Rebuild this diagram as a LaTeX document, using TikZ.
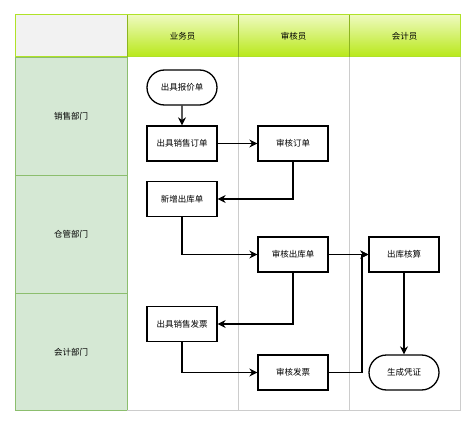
\documentclass[tikz,border=0pt]{standalone}
\usepackage{fontspec}
\newfontfamily\cjk{Noto Sans CJK SC}
\usepackage{tikz}
\usetikzlibrary{arrows.meta,shapes.misc}
\definecolor{hdrline}{RGB}{176,226,40}
\definecolor{hdrtop}{RGB}{238,250,190}
\definecolor{hdrbot}{RGB}{184,232,24}
\definecolor{deptfill}{RGB}{213,232,212}
\definecolor{deptline}{RGB}{140,190,110}
\definecolor{laneline}{RGB}{204,204,204}
\tikzset{
    stepbox/.style={
        draw,
        line width=1.3pt,
        minimum width=70pt,
        minimum height=35pt,
        inner sep=0pt,
        font=\cjk\fontsize{8.5}{10}\selectfont
    },
    % 圆角起止框
    termbox/.style={
        stepbox,
        rounded rectangle
    },
    flowarrow/.style={
        line width=1.2pt,
        black,
        -{Stealth[length=8pt, width=8pt]}
    },
    lanetext/.style={
        font=\cjk\fontsize{8.5}{10}\selectfont
    }
}
\begin{document}
\begin{tikzpicture}[x=1pt,y=-1pt]
\useasboundingbox (0,0) rectangle (474,425);
\fill[white] (0,0) rectangle (474,425);

% ===================== 表头 =====================
\fill[black!5] (15,15) rectangle (127,57);
\shade[top color=hdrtop, bottom color=hdrbot] (127,15) rectangle (460,57);
\draw[hdrline, line width=1pt] (15,15) rectangle (460,57);
\draw[hdrline!80!black, line width=0.8pt] (127,15) -- (127,57) (238,15) -- (238,57) (349,15) -- (349,57);
\node[lanetext] (clerk) at (182.5,36) {业务员};
\node[lanetext] (auditor) at (293.5,36) {审核员};
\node[lanetext] (accountant) at (404.5,36) {会计员};

% ===================== 部门 =====================
\draw[deptline, fill=deptfill, line width=0.8pt] (15,57) rectangle (127,175);
\draw[deptline, fill=deptfill, line width=0.8pt] (15,175) rectangle (127,293);
\draw[deptline, fill=deptfill, line width=0.8pt] (15,293) rectangle (127,410);
\node[lanetext] (sales) at (71,116) {销售部门};
\node[lanetext] (store) at (71,234) {仓管部门};
\node[lanetext] (account) at (71,352) {会计部门};

% 泳道
\draw[laneline, line width=0.8pt] (238,57) -- (238,410) (349,57) -- (349,410);
\draw[laneline, line width=0.8pt] (127,410.5) -- (460,410.5) -- (460,57);

% ===================== 流程 =====================
\node[termbox] (quote) at (182,87.5) {出具报价单};
\node[stepbox] (salesorder) at (182,143.5) {出具销售订单};
\node[stepbox] (checkorder) at (293,143.5) {审核订单};
\node[stepbox] (newout) at (182,199) {新增出库单};
\node[stepbox] (checkout) at (293,254.5) {审核出库单};
\node[stepbox] (costout) at (404,254.5) {出库核算};
\node[stepbox] (invoice) at (182,324) {出具销售发票};
\node[stepbox] (checkinv) at (293,372.5) {审核发票};
\node[termbox] (voucher) at (404,372.5) {生成凭证};
\coordinate (merge) at (362,372.5);

\draw[flowarrow] (quote) -- (salesorder);
\draw[flowarrow] (salesorder) -- (checkorder);
\draw[flowarrow] (checkorder.south) |- (newout.east);
\draw[flowarrow] (newout.south) |- (checkout.west);
\draw[flowarrow] (checkout) -- (costout);
\draw[flowarrow] (checkout.south) |- (invoice.east);
\draw[flowarrow] (invoice.south) |- (checkinv.west);
\draw[flowarrow] (checkinv.east) -- (merge) |- (costout.west);
\draw[flowarrow] (costout) -- (voucher);

\end{tikzpicture}
\end{document}
